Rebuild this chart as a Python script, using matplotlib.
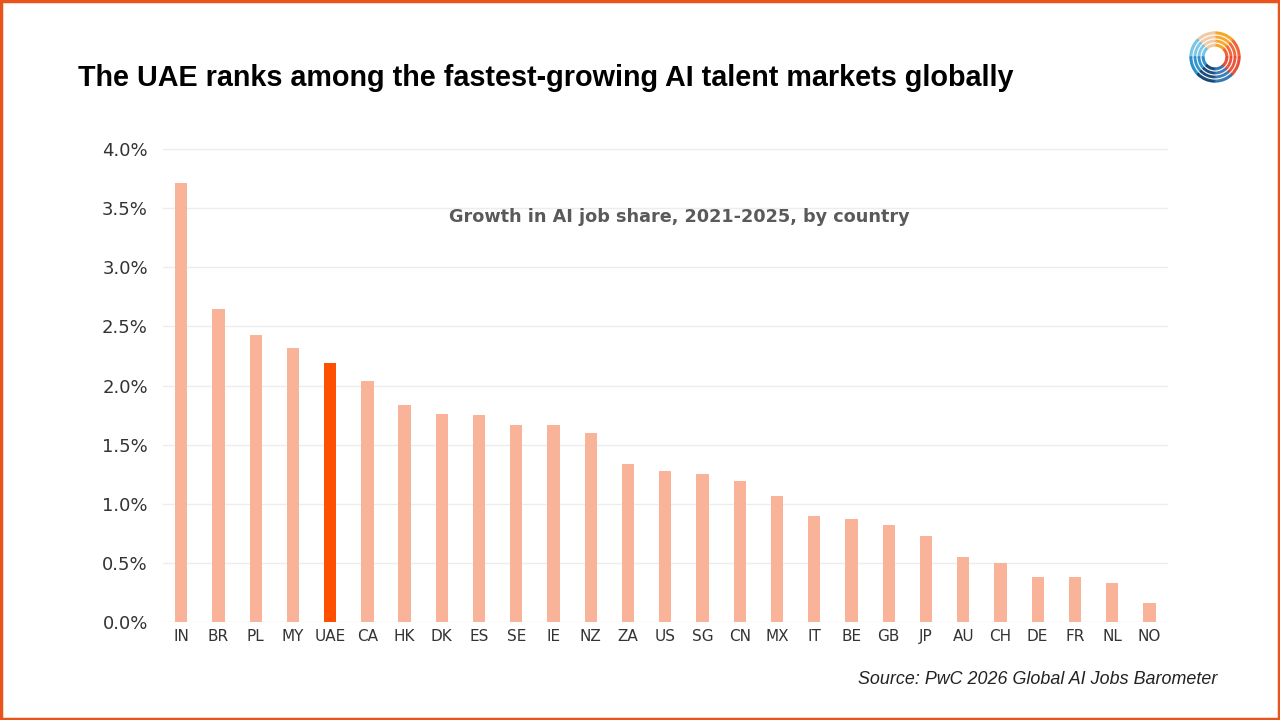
import matplotlib.pyplot as plt
import matplotlib.patches as mpatches
from matplotlib.ticker import PercentFormatter

plt.rcParams['font.family'] = ['Liberation Sans', 'DejaVu Sans']

# data (growth in AI job share, 2021-2025)
countries = ['IN', 'BR', 'PL', 'MY', 'UAE', 'CA', 'HK', 'DK', 'ES', 'SE', 'IE', 'NZ', 'ZA', 'US',
             'SG', 'CN', 'MX', 'IT', 'BE', 'GB', 'JP', 'AU', 'CH', 'DE', 'FR', 'NL', 'NO']
growth = [3.71, 2.65, 2.43, 2.32, 2.19, 2.04, 1.84, 1.76, 1.75, 1.67, 1.67, 1.60, 1.34, 1.28,
          1.255, 1.19, 1.07, 0.90, 0.875, 0.82, 0.73, 0.55, 0.50, 0.38, 0.38, 0.33, 0.16]
highlight = 'UAE'

light = '#F8B398'
strong = '#FE5000'
colors = [strong if c == highlight else light for c in countries]

fig = plt.figure(figsize=(12.8, 7.2), dpi=100)
ax = fig.add_axes([0.127, 0.136, 0.7855, 0.6585])

x = range(len(countries))
ax.bar(x, [g / 100 for g in growth], width=0.33, color=colors, zorder=2)

ax.set_xlim(-0.5, len(countries) - 0.5)
ax.set_ylim(0, 0.0401)
ax.set_yticks([i * 0.005 for i in range(9)])
ax.yaxis.set_major_formatter(PercentFormatter(1.0, decimals=1))
ax.set_xticks(list(x))
ax.set_xticklabels(countries)

ax.grid(axis='y', color='#EDEDED', linewidth=1, zorder=0)
for s in ax.spines.values():
    s.set_visible(False)
ax.tick_params(axis='both', length=0, colors='#333333')
ax.tick_params(axis='y', labelsize=13, pad=10.5)
ax.tick_params(axis='x', labelsize=11, pad=5)
for lab in ax.get_xticklabels() + ax.get_yticklabels():
    lab.set_family('DejaVu Sans')

ax.text(0.514, 0.855, 'Growth in AI job share, 2021-2025, by country', transform=ax.transAxes,
        ha='center', va='center', fontsize=12.7, fontweight='bold', color='#5A5A5A',
        family='DejaVu Sans')

fig.text(0.061, 0.892, 'The UAE ranks among the fastest-growing AI talent markets globally',
         ha='left', va='center', fontsize=20.7, fontweight='bold', color='black')
fig.text(0.951, 0.056, 'Source: PwC 2026 Global AI Jobs Barometer', ha='right', va='center',
         fontsize=12.9, style='italic', color='#222222')

# orange frame
fig.patches.append(mpatches.Rectangle((0.001, 0.002), 0.998, 0.996, transform=fig.transFigure,
                                      fill=False, edgecolor='#E8541C', linewidth=2.5))

# logo, rough ring of colored wedges
ring_cols = ['#F05A28', '#F7A01B', '#F2C6A0', '#6EC1E4', '#1E88C8', '#0B3C6E', '#2A6FB0', '#E9452A']
for i, c in enumerate(ring_cols):
    w = mpatches.Wedge((1215, 720 - 57), 25, i * 45, (i + 1) * 45, width=14, color=c,
                       transform=None, alpha=0.9)
    fig.patches.append(w)
for r in (14, 18, 22):
    fig.patches.append(mpatches.Circle((1215, 720 - 57), r, transform=None, fill=False,
                                       edgecolor='white', linewidth=0.8))

fig.savefig('out.png', dpi=100)
